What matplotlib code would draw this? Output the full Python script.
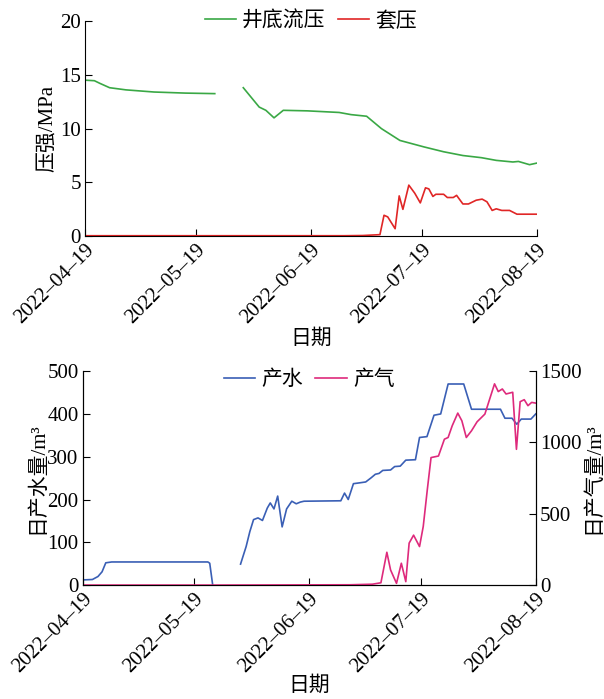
import numpy as np
import datetime as dt
import matplotlib
matplotlib.use("Agg")
from matplotlib import pyplot as plt

plt.rcParams['font.family'] = ['Liberation Serif', 'Noto Sans CJK SC']
plt.rcParams['axes.unicode_minus'] = False

start = dt.datetime(2022, 4, 19)
tick_dates = [dt.datetime(2022, m, 19) for m in (4, 5, 6, 7, 8)]
tick_labels = ['2022–04–19', '2022–05–19', '2022–06–19', '2022–07–19', '2022–08–19']

# 井底流压 (day offset, MPa); NaN = gap
bhp_day = [0, 2.5, 4, 6.6, 11, 18.6, 27, 35, 39,
           42.7, 47, 48.8, 51, 53.5, 60, 68.6, 71.8, 76, 80, 85, 91.5, 96.8,
           102, 107, 111, 115.5, 117, 120, 122]
bhp_val = [14.5, 14.45, 14.2, 13.8, 13.6, 13.4, 13.3, 13.25, np.nan,
           13.8, 12.0, 11.7, 11.0, 11.7, 11.65, 11.5, 11.3, 11.15, 10.0, 8.9, 8.3, 7.85,
           7.5, 7.3, 7.05, 6.9, 6.95, 6.65, 6.8]

# 套压
cp_day = [0, 70, 75, 79.6, 80.7, 81.7, 83.7, 84.8, 85.8, 87.4, 89, 90.5, 91.9, 92.8,
          93.9, 94.7, 96.8, 97.8, 99.4, 100.3, 102, 103.5, 105.6, 107.2, 108.5,
          109.9, 111, 112.5, 114.6, 116.6, 122]
cp_val = [0.05, 0.05, 0.07, 0.15, 1.95, 1.8, 0.7, 3.75, 2.5, 4.75, 4.0, 3.1, 4.5, 4.4,
          3.7, 3.9, 3.9, 3.6, 3.6, 3.8, 3.0, 3.0, 3.35, 3.45, 3.2,
          2.4, 2.55, 2.4, 2.4, 2.05, 2.05]

# 产水 (m3)
water_day = [0, 2.6, 4.1, 5.2, 6.2, 7.8, 33.7, 34.2, 35, 38,
             42.5, 44, 45, 46, 47.2, 48.4, 49.7, 50.5, 51.5, 52.5, 53.7, 54.9, 56.3,
             57.5, 58.6, 59.6, 69.5, 70.5, 71.5, 72.9, 74.6, 76.2, 77.7, 78.8, 79.8,
             80.8, 82.9, 84, 85.5, 87, 89.6, 90.7, 92.7, 94.6, 96.4, 98.4, 102.6,
             104.7, 112.5, 113.7, 115.6, 116.9, 118.1, 120.7, 122]
water_val = [12, 13, 20, 31, 52, 54, 54, 51, 0, np.nan,
             49, 90, 125, 153, 157, 151, 180, 192, 178, 208, 136, 178, 196,
             190, 194, 196, 197, 215, 200, 237, 239, 241, 251, 259, 261,
             268, 269, 277, 278, 292, 293, 345, 347, 397, 400, 470, 470,
             411, 411, 390, 390, 376, 388, 388, 400]

# 产气 (m3)
gas_day = [0, 35, 72, 78, 80.3, 81.9, 82.9, 84.5, 85.8, 87, 87.9, 89.1, 90.7, 91.7,
           92.8, 93.8, 95.8, 97.4, 98.4, 99.5, 101, 102.1, 103.3, 104.7, 106.2,
           108.3, 110.9, 111.9, 113, 114, 115.8, 116.8, 117.8, 118.9, 119.9, 120.9, 122]
gas_val = [0, 0, 2, 6, 16, 230, 106, 12, 153, 24, 294, 350, 270, 411,
           670, 894, 905, 1023, 1035, 1117, 1206, 1152, 1035, 1082, 1145,
           1199, 1411, 1357, 1375, 1340, 1352, 952, 1286, 1300, 1258, 1281, 1276]


def to_dates(days):
    return [start + dt.timedelta(days=d) for d in days]


fs = 15        # tick labels
fl = 15        # axis labels / legend
fig = plt.figure(figsize=(6.04, 6.99), dpi=100)

# ---- top: pressure
ax1 = fig.add_axes([0.141, 0.662, 0.748, 0.308])
ax1.plot(to_dates(bhp_day), bhp_val, color='#3aa845', lw=1.2, label='井底流压')
ax1.plot(to_dates(cp_day), cp_val, color='#e02626', lw=1.2, label='套压')
ax1.set_ylim(0, 20)
ax1.set_yticks([0, 5, 10, 15, 20])
ax1.set_xlim(tick_dates[0], tick_dates[-1])
ax1.set_xticks(tick_dates)
ax1.set_xticklabels(tick_labels, rotation=45, ha='right', va='top', rotation_mode='anchor')
ax1.spines['top'].set_visible(False)
ax1.spines['right'].set_visible(False)
ax1.tick_params(direction='in', labelsize=fs, length=5, pad=3)
ax1.set_ylabel('压强/MPa', fontsize=fl, labelpad=2)
ax1.set_xlabel('日期', fontsize=fl, labelpad=1)
ax1.legend(loc='upper center', bbox_to_anchor=(0.5, 1.13), ncol=2, frameon=False,
           fontsize=fl, handlelength=1.5, columnspacing=0.6, handletextpad=0.3)

# ---- bottom: production
ax2 = fig.add_axes([0.137, 0.163, 0.750, 0.306])
ax3 = ax2.twinx()
l1, = ax2.plot(to_dates(water_day), water_val, color='#3a5fb5', lw=1.2, label='产水')
l2, = ax3.plot(to_dates(gas_day), gas_val, color='#de2a7c', lw=1.2, label='产气')
ax2.set_ylim(0, 500)
ax2.set_yticks([0, 100, 200, 300, 400, 500])
ax3.set_ylim(0, 1500)
ax3.set_yticks([0, 500, 1000, 1500])
ax2.set_xlim(tick_dates[0], tick_dates[-1])
ax2.set_xticks(tick_dates)
ax2.set_xticklabels(tick_labels, rotation=45, ha='right', va='top', rotation_mode='anchor')
for a in (ax2, ax3):
    a.spines['top'].set_visible(False)
    a.tick_params(direction='in', labelsize=fs, length=5, pad=3)
ax2.set_ylabel('日产水量/m³', fontsize=fl, labelpad=0)
ax3.set_ylabel('日产气量/m³', fontsize=fl, labelpad=2)
ax2.set_xlabel('日期', fontsize=fl, labelpad=0)
ax2.legend(handles=[l1, l2], loc='upper center', bbox_to_anchor=(0.5, 1.09), ncol=2,
           frameon=False, fontsize=fl, handlelength=1.5, columnspacing=0.6,
           handletextpad=0.3)

fig.savefig('out.png', dpi=100)
